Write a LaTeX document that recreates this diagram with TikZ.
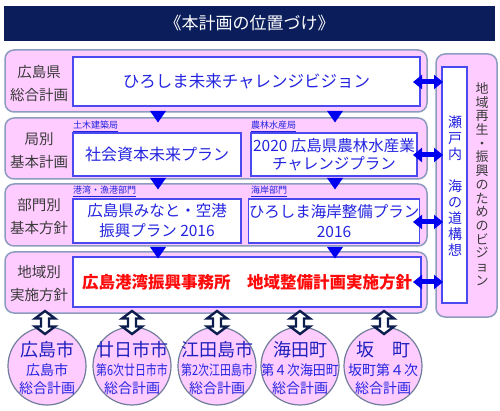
\documentclass[tikz,border=0pt]{standalone}
\usepackage{fontspec}
\setmainfont{Noto Sans CJK JP}
\usepackage{graphicx}
\usetikzlibrary{arrows.meta}
\definecolor{navy}{HTML}{0B1E5B}
\definecolor{pinkf}{HTML}{FFCCFF}
\definecolor{outerc}{HTML}{8C9CC0}
\definecolor{innerc}{HTML}{4A4AF0}
\definecolor{txtb}{HTML}{2424E0}
\definecolor{lbl}{HTML}{3A3A3A}
\definecolor{arrb}{HTML}{0000F0}
\definecolor{darrc}{HTML}{0D1E4E}
\definecolor{redt}{HTML}{FF0A0A}
\newcommand{\fs}[2]{\fontsize{#1}{#2}\selectfont}
\begin{document}
\begin{tikzpicture}[x=1pt,y=-1pt,
  outerbox/.style={draw=outerc, line width=1.5pt, fill=pinkf, rounded corners=9pt, inner sep=0pt},
  innerbox/.style={draw=innerc, line width=1.4pt, fill=white, inner sep=0pt, text=txtb, align=center},
  rowlabel/.style={text=lbl, align=center, inner sep=0pt, font=\fs{14.5}{23}},
  smalllabel/.style={text=txtb, anchor=west, inner sep=0pt, font=\fs{9}{10}},
  tri/.style={fill=arrb},
  hdarrow/.style={draw=arrb, line width=5pt, {Triangle[length=9pt,width=14pt]}-{Triangle[length=9pt,width=14pt]}},
  vdarrow/.style={draw=darrc, fill=white, line width=2.4pt, line join=miter},
  circ/.style={circle, draw=outerc!80!black, line width=1.2pt, fill=pinkf, minimum size=78pt, inner sep=0pt},
  ctop/.style={text=txtb!85!black, inner sep=0pt, font=\fs{18}{19}},
  cmid/.style={text=txtb, inner sep=0pt, font=\fs{14}{15}},
]
\useasboundingbox (0,0) rectangle (500,411);

% title
\node[fill=navy, minimum width=491pt, minimum height=35pt, inner sep=0pt, text=white, font=\fs{17}{18}] (title) at (249.5,23.5) {《本計画の位置づけ》};

% rows
\node[outerbox, minimum width=422pt, minimum height=62pt] (row1) at (216,81) {};
\node[outerbox, minimum width=422pt, minimum height=61pt] (row2) at (216,148.5) {};
\node[outerbox, minimum width=422pt, minimum height=62pt] (row3) at (216,215) {};
\node[outerbox, minimum width=422pt, minimum height=61pt] (row4) at (216,282.5) {};

% right column
\node[outerbox, minimum width=61pt, minimum height=263pt] (rcol) at (466.5,185.5) {};
\node[draw=innerc, line width=1.2pt, fill=white, minimum width=25pt, minimum height=236pt, inner sep=0pt] (rin) at (454.5,185) {};
\node[text=txtb, align=center, inner sep=0pt, font=\fs{14}{16}] (setouchi) at (455,186) {瀬\\戸\\内\\　\\海\\の\\道\\構\\想};
\node[text=lbl, align=center, inner sep=0pt, font=\fs{13}{13.7}] (vision) at (482,184) {地\\域\\再\\生\\・\\振\\興\\の\\た\\め\\の\\ビ\\ジ\\ョ\\ン};

% row labels
\node[rowlabel] (l1) at (39,83.5) {広島県\\総合計画};
\node[rowlabel] (l2) at (39,150.5) {局別\\基本計画};
\node[rowlabel] (l3) at (39,216.5) {部門別\\基本方針};
\node[rowlabel] (l4) at (39,284) {地域別\\実施方針};

% inner boxes
\node[innerbox, minimum width=347pt, minimum height=49pt, font=\fs{16.5}{20}] (b1) at (246.5,81.5) {ひろしま未来チャレンジビジョン};
\node[innerbox, minimum width=168pt, minimum height=43pt, font=\fs{16}{20}] (b2a) at (157,154.5) {社会資本未来プラン};
\node[innerbox, minimum width=166pt, minimum height=43pt, font=\fs{15.5}{18}] (b2b) at (334,154.5) {2020 広島県農林水産業\\チャレンジプラン};
\node[innerbox, minimum width=168pt, minimum height=44pt, font=\fs{15.5}{20}] (b3a) at (157,221) {広島県みなと・空港\\振興プラン 2016};
\node[innerbox, minimum width=166pt, minimum height=44pt, font=\fs{15.5}{20}] (b3b) at (334,221) {ひろしま海岸整備プラン\\2016};
\node[innerbox, minimum width=348pt, minimum height=50pt, text=redt, font=\bfseries\fs{16.5}{20}] (b4) at (247,282) {広島港湾振興事務所　地域整備計画実施方針};

% small labels
\node[smalllabel] (s1) at (73,126.5) {\underline{土木建築局}};
\node[smalllabel] (s2) at (251,126.5) {\underline{農林水産局}};
\node[smalllabel] (s3) at (73,191.5) {\underline{港湾・漁港部門}};
\node[smalllabel] (s4) at (251,191.5) {\underline{海岸部門}};

% down triangles
\foreach \x in {158,335}{
  \fill[tri] (\x-8,111) -- (\x+8,111) -- (\x,122.5) -- cycle;
  \fill[tri] (\x-8,178) -- (\x+8,178) -- (\x,189.5) -- cycle;
  \fill[tri] (\x-8,247) -- (\x+8,247) -- (\x,258.5) -- cycle;
}

% horizontal double arrows
\coordinate (h1a) at (413,82);  \coordinate (h1b) at (443,82);
\coordinate (h2a) at (413,155); \coordinate (h2b) at (443,155);
\coordinate (h3a) at (413,222); \coordinate (h3b) at (443,222);
\coordinate (h4a) at (413,282); \coordinate (h4b) at (443,282);
\draw[hdarrow] (h1a) -- (h1b);
\draw[hdarrow] (h2a) -- (h2b);
\draw[hdarrow] (h3a) -- (h3b);
\draw[hdarrow] (h4a) -- (h4b);

% circles
\node[circ] (c1) at (47,366) {};
\node[circ] (c2) at (132,366) {};
\node[circ] (c3) at (217,366) {};
\node[circ] (c4) at (300,366) {};
\node[circ] (c5) at (383,366) {};

\node[ctop] (c1t) at (47,350) {広島市};
\node[cmid] (c1m) at (47,370) {広島市};
\node[cmid] (c1b) at (47,388) {総合計画};

\node[ctop] (c2t) at (132,350) {廿日市市};
\node[cmid] (c2m) at (132,370) {\scalebox{0.78}[1]{第6次廿日市市}};
\node[cmid] (c2b) at (132,388) {総合計画};

\node[ctop] (c3t) at (217,350) {江田島市};
\node[cmid] (c3m) at (217,370) {\scalebox{0.78}[1]{第2次江田島市}};
\node[cmid] (c3b) at (217,388) {総合計画};

\node[ctop] (c4t) at (300,350) {海田町};
\node[cmid] (c4m) at (300,370) {\scalebox{0.92}[1]{第４次海田町}};
\node[cmid] (c4b) at (300,388) {総合計画};

\node[ctop] (c5t) at (383,350) {坂　町};
\node[cmid] (c5m) at (383,370) {坂町第４次};
\node[cmid] (c5b) at (383,388) {総合計画};

% vertical hollow double arrows
\foreach \cx in {45,132,217,300,384}{
  \draw[vdarrow] (\cx,311) -- (\cx+10,318.5) -- (\cx+4,318.5) -- (\cx+4,326.5) -- (\cx+10,326.5) -- (\cx,334) -- (\cx-10,326.5) -- (\cx-4,326.5) -- (\cx-4,318.5) -- (\cx-10,318.5) -- cycle;
}
\end{tikzpicture}
\end{document}
